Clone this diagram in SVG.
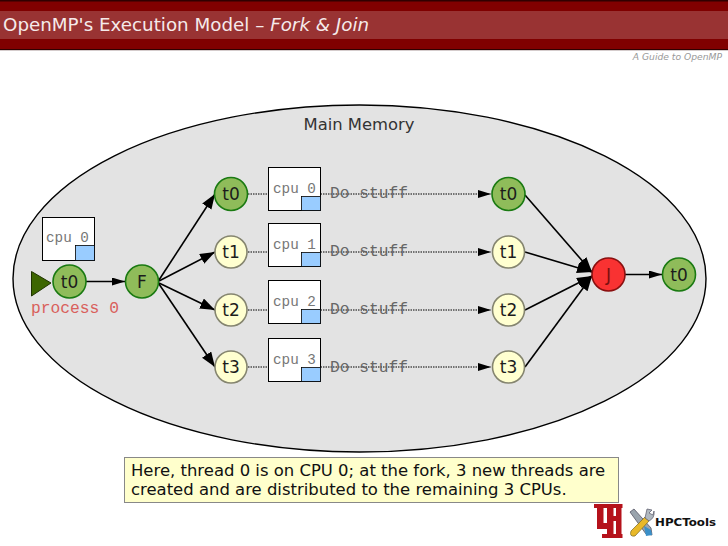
<svg xmlns="http://www.w3.org/2000/svg" width="728" height="546" viewBox="0 0 728 546">
<style>
.n{stroke-width:1.6}
.g{fill:#8fbc5a;stroke:#1a7a12}
.y{fill:#ffffd0;stroke:#85856f}
.r{fill:#f93232;stroke:#8a1010}
.lbl{font:17px "DejaVu Sans",sans-serif;fill:#1c1c1c;text-anchor:middle}
.mono{font:14.300px "Liberation Mono",monospace;fill:#777}
.stuff{font:16.250px "Liberation Mono",monospace;fill:#666}
.cpu{fill:#fff;stroke:#000;stroke-width:1}
.blue{fill:#99ccff;stroke:#000;stroke-width:.8}
.a{stroke:#000;stroke-width:1.6;fill:none;marker-end:url(#ah)}
.b{stroke:#000;stroke-width:1.4;fill:none;marker-end:url(#ahs)}
.d{stroke:#000;stroke-width:1;stroke-dasharray:1.500 1;fill:none;marker-end:url(#ahs)}
.uh{fill:#b5121b}
</style>
<defs>
<marker id="ah" markerUnits="userSpaceOnUse" markerWidth="16" markerHeight="12" refX="15" refY="5.500" orient="auto"><path d="M0 0L15 5.500L0 11z" fill="#000"/></marker>
<marker id="ahs" markerUnits="userSpaceOnUse" markerWidth="14" markerHeight="10" refX="13" refY="4" orient="auto"><path d="M0 0L13 4L0 8z" fill="#000"/></marker>
</defs>
<rect width="728" height="546" fill="#fff"/>
<g id="header">
<rect x="0" y="0" width="728" height="50" fill="#800000"/>
<rect x="0" y="0" width="728" height="1.500" fill="#300000"/>
<rect x="0" y="49" width="728" height="1.200" fill="#300000"/>
<rect x="0" y="11" width="728" height="28" fill="#993333"/>
<text x="3" y="31" font-family="DejaVu Sans,sans-serif" font-size="18.300" fill="#f5eaea">OpenMP's Execution Model – <tspan font-style="italic">Fork &amp; Join</tspan></text>
<text x="722" y="60" text-anchor="end" font-family="DejaVu Sans,sans-serif" font-style="italic" font-size="9.200" fill="#999">A Guide to OpenMP</text>
</g>
<ellipse id="memory" cx="359.500" cy="278.500" rx="346.500" ry="173.500" fill="#e3e3e3" stroke="#000" stroke-width="1.400"/>
<text x="359" y="130" text-anchor="middle" font-family="DejaVu Sans,sans-serif" font-size="16.400" fill="#333">Main Memory</text>
<g id="connectors">
<path class="b" d="M86 281.500H125"/>
<path class="a" d="M159 280L215 194"/>
<path class="a" d="M159 281L215 252"/>
<path class="a" d="M159 283L215 310"/>
<path class="a" d="M159 284L215 367"/>
<path class="d" d="M248 194H491"/>
<path class="d" d="M248 252H491"/>
<path class="d" d="M248 310H491"/>
<path class="d" d="M248 367H491"/>
<path class="a" d="M525 195L592 272"/>
<path class="a" d="M525 252L592 272"/>
<path class="a" d="M525 310L592 276"/>
<path class="a" d="M525 367L592 276"/>
<path class="b" d="M625 274.500H662"/>
</g>
<g id="cpu-p"><rect class="cpu" x="42.500" y="217.500" width="52" height="43"/><rect class="blue" x="75.500" y="245.500" width="19" height="15"/><text class="mono" x="46" y="242">cpu 0</text></g>
<g id="cpu0"><rect class="cpu" x="268.500" y="167.500" width="52" height="43"/><rect class="blue" x="301.500" y="196.500" width="19" height="14"/><text class="mono" x="273" y="193">cpu 0</text></g>
<g id="cpu1"><rect class="cpu" x="268.500" y="223.500" width="52" height="43"/><rect class="blue" x="301.500" y="252.500" width="19" height="14"/><text class="mono" x="273" y="249">cpu 1</text></g>
<g id="cpu2"><rect class="cpu" x="268.500" y="280.500" width="52" height="43"/><rect class="blue" x="301.500" y="309.500" width="19" height="14"/><text class="mono" x="273" y="306">cpu 2</text></g>
<g id="cpu3"><rect class="cpu" x="268.500" y="338.500" width="52" height="43"/><rect class="blue" x="301.500" y="367.500" width="19" height="14"/><text class="mono" x="273" y="364">cpu 3</text></g>
<text class="stuff" x="330" y="198">Do stuff</text>
<text class="stuff" x="330" y="256">Do stuff</text>
<text class="stuff" x="330" y="314">Do stuff</text>
<text class="stuff" x="330" y="372">Do stuff</text>
<g id="process"><path d="M31.500 271.500L51 283L31.500 296z" fill="#3d6600" stroke="#1f3300"/><text x="31" y="313" font-family="Liberation Mono,monospace" font-size="16.300" fill="#d9605c">process 0</text></g>
<g id="n-t0"><circle class="n g" cx="69.500" cy="281.500" r="16.500"/><text class="lbl" x="69.500" y="287.500">t0</text></g>
<g id="n-F"><circle class="n g" cx="142" cy="281.500" r="16.500"/><text class="lbl" x="142" y="287.500">F</text></g>
<g id="a-t0"><circle class="n g" cx="231" cy="194" r="16.500"/><text class="lbl" x="231" y="200">t0</text></g>
<g id="a-t1"><circle class="n y" cx="231" cy="252" r="16"/><text class="lbl" x="231" y="258">t1</text></g>
<g id="a-t2"><circle class="n y" cx="231" cy="310" r="16"/><text class="lbl" x="231" y="316">t2</text></g>
<g id="a-t3"><circle class="n y" cx="231" cy="367" r="16"/><text class="lbl" x="231" y="373">t3</text></g>
<g id="b-t0"><circle class="n g" cx="508.500" cy="194" r="16.500"/><text class="lbl" x="508.500" y="200">t0</text></g>
<g id="b-t1"><circle class="n y" cx="508.500" cy="252" r="16"/><text class="lbl" x="508.500" y="258">t1</text></g>
<g id="b-t2"><circle class="n y" cx="508.500" cy="310" r="16"/><text class="lbl" x="508.500" y="316">t2</text></g>
<g id="b-t3"><circle class="n y" cx="508.500" cy="367" r="16"/><text class="lbl" x="508.500" y="373">t3</text></g>
<g id="n-J"><circle class="n r" cx="608.500" cy="274.500" r="16.500"/><text class="lbl" x="608.500" y="280.500" style="fill:#7a1010">J</text></g>
<g id="n-t0b"><circle class="n g" cx="679" cy="274.500" r="16.500"/><text class="lbl" x="679" y="280.500">t0</text></g>
<g id="note">
<rect x="124.500" y="457.500" width="494" height="45" fill="#ffffcc" stroke="#888"/>
<text font-family="DejaVu Sans,sans-serif" font-size="16.470" fill="#111"><tspan x="131" y="476">Here, thread 0 is on CPU 0; at the fork, 3 new threads are</tspan><tspan x="131" y="495">created and are distributed to the remaining 3 CPUs.</tspan></text>
</g>
<g id="logo">
<g class="uh">
<rect x="594" y="504" width="12" height="4"/><rect x="606" y="504" width="16.500" height="4"/>
<rect x="597" y="504" width="6.500" height="25"/><rect x="597" y="523" width="16" height="6"/>
<rect x="607" y="504" width="6.500" height="34"/><rect x="616" y="504" width="5.500" height="34"/>
<rect x="607" y="516" width="13" height="5"/>
<rect x="602" y="534" width="20.500" height="4"/>
</g>
<path d="M630 512L634 509L651 528L652 535L646 534z" fill="#9aa4ad" stroke="#556" stroke-width=".8"/>
<path d="M644 526L651 530L652 535L646 536z" fill="#3a8fc8"/>
<path d="M631 531L645 517L649 521L635 536Q629 537 631 531z" fill="#e8b828" stroke="#776622" stroke-width=".7"/>
<path d="M645 518L647 509L652 510L649 513L653 515L654 511Q655 518 649 521z" fill="#b0b8bf" stroke="#556" stroke-width=".7"/>
<text x="655" y="526" font-family="DejaVu Sans,sans-serif" font-weight="bold" font-size="10.500" fill="#111" textLength="61" lengthAdjust="spacingAndGlyphs">HPCTools</text>
</g>
</svg>
